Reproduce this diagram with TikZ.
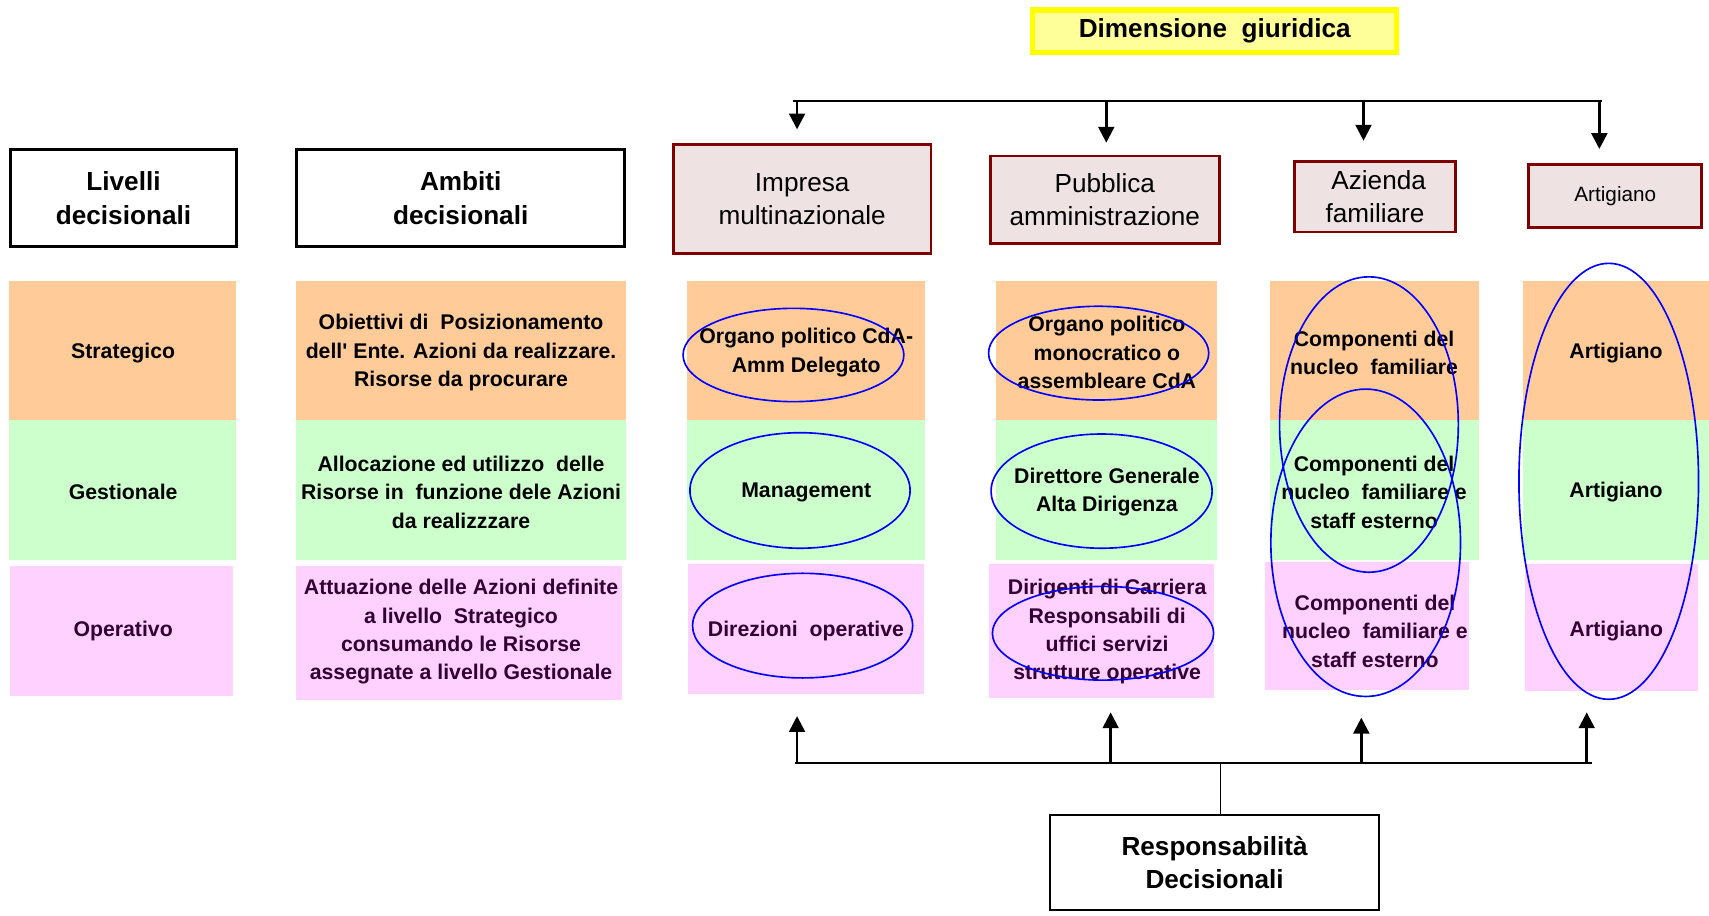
\documentclass[tikz,border=0pt]{standalone}
\usepackage{fontspec}
\setmainfont{Liberation Sans}[Ligatures=TeXOff]
\usetikzlibrary{arrows.meta,shapes.geometric}
\definecolor{orangec}{HTML}{FFCC99}
\definecolor{greenc}{HTML}{CCFFCC}
\definecolor{pinkc}{HTML}{FFD1FF}
\definecolor{hdrfill}{HTML}{EFE2E2}
\definecolor{darkred}{HTML}{800000}
\definecolor{ptext}{HTML}{330033}
\definecolor{ylwfill}{HTML}{FFFF99}
\definecolor{ylwline}{HTML}{FFFF00}
\definecolor{ellblue}{HTML}{0000FF}
\begin{document}
\begin{tikzpicture}[x=1pt,y=-1pt,
  cell/.style={inner sep=0pt},
  ocell/.style={cell, fill=orangec},
  gcell/.style={cell, fill=greenc},
  pcell/.style={cell, fill=pinkc},
  ctext/.style={inner sep=0pt, align=center, font=\fontsize{19.5}{26}\selectfont\bfseries},
  ptxt/.style={ctext, text=ptext},
  blackhdr/.style={draw=black, line width=2.8pt, fill=white, inner sep=0pt, align=center, font=\fontsize{24}{30.6}\selectfont\bfseries},
  redhdr/.style={draw=darkred, line width=2.6pt, fill=hdrfill, inner sep=0pt, align=center, font=\fontsize{24}{30}\selectfont},
  ell/.style={draw=ellblue, line width=1.5pt, ellipse, inner sep=0pt},
  conn/.style={line width=1.8pt, draw=black},
  arr/.style={line width=2.3pt, draw=black, -{Triangle[length=14.5pt,width=14.5pt]}}
]
\useasboundingbox (0,0) rectangle (1568,840);

% title
\node[draw=ylwline, line width=5pt, fill=ylwfill, inner sep=0pt, minimum width=334pt, minimum height=38.8pt,
  font=\fontsize{24}{30}\selectfont\bfseries] (dim) at (1114.5,28.6) {Dimensione~ giuridica};

% headers
\node[blackhdr, minimum width=206.6pt, minimum height=89pt] (livelli) at (113.3,181.9) {Livelli\\decisionali};
\node[blackhdr, minimum width=301.2pt, minimum height=89pt] (ambiti) at (422.7,181.9) {Ambiti\\decisionali};
\node[redhdr, minimum width=236.3pt, minimum height=99.9pt] (impresa) at (736,182.75) {Impresa\\multinazionale};
\node[redhdr, minimum width=210.3pt, minimum height=80pt] (pubblica) at (1013.65,183.2) {Pubblica\\amministrazione};
\node[redhdr, minimum width=147.5pt, minimum height=64.4pt] (azienda) at (1261.55,180.6) {~Azienda\\familiare};
\node[redhdr, minimum width=158.5pt, minimum height=58.5pt, font=\fontsize{19}{24}\selectfont] (artig) at (1482,179.85) {Artigiano};

% row 1 cells
\node[ocell, minimum width=207.8pt, minimum height=127.6pt] (s1) at (112.5,321.6) {};
\node[ocell, minimum width=302.5pt, minimum height=127.6pt] (s2) at (423,321.6) {};
\node[ocell, minimum width=218.2pt, minimum height=127.6pt] (s3) at (739.7,321.6) {};
\node[ocell, minimum width=202.7pt, minimum height=127.6pt] (s4) at (1015.6,321.6) {};
\node[ocell, minimum width=191.7pt, minimum height=127.6pt] (s5) at (1260.7,321.6) {};
\node[ocell, minimum width=170.6pt, minimum height=127.6pt] (s6) at (1482.7,321.6) {};
% row 2 cells
\node[gcell, minimum width=207.8pt, minimum height=128.4pt] (g1) at (112.5,449.6) {};
\node[gcell, minimum width=302.5pt, minimum height=128.4pt] (g2) at (423,449.6) {};
\node[gcell, minimum width=218.2pt, minimum height=128.4pt] (g3) at (739.7,449.6) {};
\node[gcell, minimum width=202.7pt, minimum height=128.4pt] (g4) at (1015.6,449.6) {};
\node[gcell, minimum width=191.7pt, minimum height=128.4pt] (g5) at (1260.7,449.6) {};
\node[gcell, minimum width=170.6pt, minimum height=128.4pt] (g6) at (1482.7,449.6) {};
% row 3 cells
\node[pcell, minimum width=204.9pt, minimum height=119.3pt] (o1) at (111.5,579) {};
\node[pcell, minimum width=298.9pt, minimum height=123pt] (o2) at (421.2,580.8) {};
\node[pcell, minimum width=217pt, minimum height=119.3pt] (o3) at (739.5,577.2) {};
\node[pcell, minimum width=206.3pt, minimum height=122.5pt] (o4) at (1010.9,578.8) {};
\node[pcell, minimum width=187.3pt, minimum height=117.5pt] (o5) at (1254,574.4) {};
\node[pcell, minimum width=158.5pt, minimum height=116.2pt] (o6) at (1478.2,575.6) {};

% row 1 texts
\node[ctext] (ts1) at (113,323.6) {Strategico};
\node[ctext] (ts2) at (423,323.6) {Obiettivi di~ Posizionamento\\dell' Ente. Azioni da realizzare.\\Risorse da procurare};
\node[ctext] (ts3) at (739.7,323.6) {Organo politico CdA-\\Amm Delegato};
\node[ctext] (ts4) at (1015.6,323.6) {Organo politico\\monocratico o\\assembleare CdA};
\node[ctext] (ts5) at (1260.7,323.6) {Componenti del\\nucleo~ familiare};
\node[ctext] (ts6) at (1482.7,323.6) {Artigiano};
% row 2 texts
\node[ctext] (tg1) at (113,451.6) {Gestionale};
\node[ctext] (tg2) at (423,451.6) {Allocazione ed utilizzo~ delle\\Risorse in~ funzione dele Azioni\\da realizzzare};
\node[ctext] (tg3) at (739.7,451.6) {Management};
\node[ctext] (tg4) at (1015.6,451.6) {Direttore Generale\\Alta Dirigenza};
\node[ctext] (tg5) at (1260.7,451.6) {Componenti del\\nucleo~ familiare e\\staff esterno};
\node[ctext] (tg6) at (1482.7,451.6) {Artigiano};
% row 3 texts
\node[ptxt] (to1) at (113,579) {Operativo};
\node[ptxt] (to2) at (423,579.6) {Attuazione delle Azioni definite\\a livello~ Strategico\\consumando le Risorse\\assegnate a livello Gestionale};
\node[ptxt] (to3) at (739.5,579.2) {Direzioni~ operative};
\node[ptxt] (to4) at (1015.8,579.6) {Dirigenti di Carriera\\Responsabili di\\uffici servizi\\strutture operative};
\node[ptxt] (to5) at (1261.5,579.2) {Componenti del\\nucleo~ familiare e\\staff esterno};
\node[ptxt] (to6) at (1483,579.2) {Artigiano};

% ellipses
\node[ell, minimum width=202.6pt, minimum height=85.6pt] (e1) at (728,325.7) {};
\node[ell, minimum width=202pt, minimum height=106pt] (e2) at (734,450) {};
\node[ell, minimum width=202pt, minimum height=96pt] (e3) at (736.4,574) {};
\node[ell, minimum width=202pt, minimum height=86pt] (e4) at (1008,324) {};
\node[ell, minimum width=202.8pt, minimum height=104.8pt] (e5) at (1010.7,450.6) {};
\node[ell, minimum width=203pt, minimum height=86pt] (e6) at (1012,581) {};
\node[ell, minimum width=164pt, minimum height=271pt] (e7) at (1256,389.5) {};
\node[ell, minimum width=174pt, minimum height=282pt] (e8) at (1253,498) {};
\node[ell, minimum width=164.8pt, minimum height=400pt] (e9) at (1476,441.6) {};

% top connectors
\coordinate (tl) at (727.2,92.4);
\coordinate (tr) at (1469.4,92.4);
\coordinate (tj1) at (731.3,92.4);
\coordinate (tj2) at (1015,92.4);
\coordinate (tj3) at (1251,92.4);
\coordinate (tj4) at (1467.4,92.4);
\coordinate (tt1) at (731.3,118.7);
\coordinate (tt2) at (1015,130.9);
\coordinate (tt3) at (1251,129.1);
\coordinate (tt4) at (1467.4,136.7);
\draw[conn] (tl) -- (tr);
\draw[arr] (tj1) -- (tt1);
\draw[arr] (tj2) -- (tt2);
\draw[arr] (tj3) -- (tt3);
\draw[arr] (tj4) -- (tt4);

% bottom box and connectors
\node[draw=black, line width=1.8pt, fill=white, inner sep=0pt, minimum width=301.7pt, minimum height=87.2pt,
  align=center, font=\fontsize{24}{30.5}\selectfont\bfseries] (resp) at (1114.35,791.4) {Responsabilità\\Decisionali};
\coordinate (bl) at (729.8,700.4);
\coordinate (br) at (1460.3,700.4);
\coordinate (bstem) at (1119.6,700.4);
\coordinate (bj1) at (731.3,700.4);
\coordinate (bj2) at (1019,700.4);
\coordinate (bj3) at (1249,700.4);
\coordinate (bj4) at (1455.8,700.4);
\coordinate (bt1) at (731.3,657);
\coordinate (bt2) at (1019,653.6);
\coordinate (bt3) at (1249,658.5);
\coordinate (bt4) at (1455.8,653.6);
\draw[conn] (bl) -- (br);
\draw[line width=1pt] (bstem) -- (bstem |- resp.north);
\draw[arr] (bj1) -- (bt1);
\draw[arr] (bj2) -- (bt2);
\draw[arr] (bj3) -- (bt3);
\draw[arr] (bj4) -- (bt4);
\end{tikzpicture}
\end{document}
